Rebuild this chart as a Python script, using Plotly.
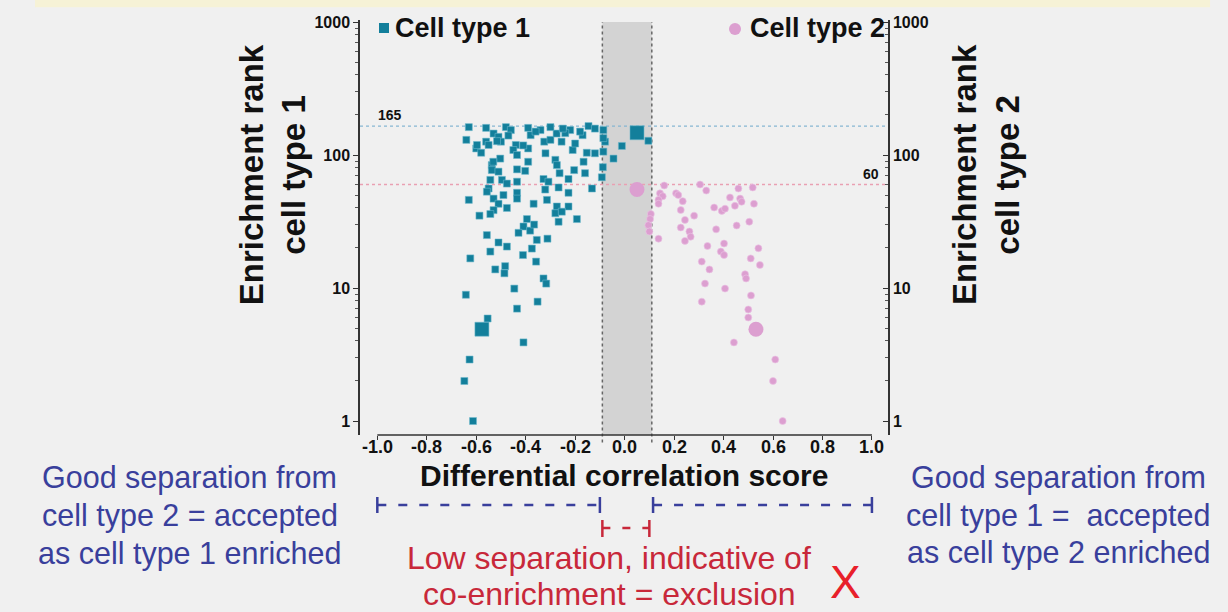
import math
import plotly.graph_objects as go

# ---------------- data ----------------
ct1_x = [-0.63, -0.64, -0.60, -0.58, -0.56, -0.53, -0.51, -0.50, -0.48, -0.46,
         -0.44, -0.45, -0.435, -0.39, -0.38, -0.39, -0.34, -0.325, -0.32, -0.30,
         -0.275, -0.255, -0.22, -0.21, -0.17, -0.146, -0.153, -0.12, -0.086, -0.079,
         -0.086, -0.011, -0.045, 0.096,
         -0.503, -0.537, -0.537, -0.51, -0.435, -0.39, -0.28, -0.274, -0.263, -0.204,
         -0.166, -0.16, -0.088, -0.092,
         -0.543, -0.496, -0.476, -0.435, -0.328, -0.308, -0.321, -0.267, -0.227, -0.55,
         -0.557, -0.227, -0.132,
         -0.49, -0.435, -0.435, -0.53, -0.63, -0.51, -0.314, -0.368, -0.476, -0.53,
         -0.274, -0.227, -0.28, -0.254,
         -0.587, -0.543, -0.193, -0.267, -0.395, -0.409, -0.382, -0.366, -0.429, -0.557,
         -0.312, -0.355, -0.51, -0.476, -0.543, -0.375, -0.411, -0.624, -0.358, -0.483,
         -0.523, -0.486, -0.328, -0.317, -0.446, -0.642, -0.352, -0.435, -0.554, -0.409,
         -0.627, -0.648, -0.613,
         -0.597, -0.55, -0.516, -0.24, -0.086, -0.531, -0.402,
         -0.56, -0.30, -0.25, -0.12, -0.18, -0.36, -0.47, -0.41, -0.20]
ct1_y = [162, 130, 112, 104, 126, 145, 137, 126, 162, 154,
         119, 109, 100, 160, 141, 112, 154, 126, 103, 130,
         145, 126, 154, 109, 141, 165, 104, 103, 154, 126,
         106, 117, 94, 128,
         94, 84, 77, 75, 78, 89, 92, 84, 73, 77,
         89, 73, 81, 68,
         65, 65, 61, 63, 66, 63, 55, 57, 66, 56,
         53, 52, 56,
         50, 52, 47, 47, 46, 43, 46, 43, 40, 38.5,
         41, 41, 36.5, 37.5,
         35, 36, 33, 31.5, 33, 29, 27, 30, 26, 25,
         23.5, 23, 22, 20.5, 18.8, 19.8, 17.7, 16.7, 15.8, 14.6,
         13.8, 12.9, 11.8, 10.8, 9.9, 8.9, 7.9, 7.0, 5.9, 3.9,
         2.9, 2.0, 1.0,
         119, 119, 127, 146, 134, 89, 76,
         160, 162, 158, 158, 150, 150, 140, 118, 122]
ct1_big_x = [-0.577, 0.05]
ct1_big_y = [4.9, 147]

ct2_x = [0.16, 0.143, 0.154, 0.137, 0.137, 0.208, 0.217, 0.235, 0.305, 0.33,
         0.227, 0.281, 0.244, 0.106, 0.103, 0.096, 0.1, 0.227, 0.262, 0.267,
         0.244, 0.137, 0.362, 0.393, 0.406, 0.426, 0.46, 0.518, 0.467, 0.473,
         0.446, 0.523, 0.37, 0.453, 0.504, 0.335, 0.402, 0.389, 0.402, 0.541,
         0.51, 0.312, 0.343, 0.547, 0.487, 0.491, 0.325, 0.406, 0.511, 0.312,
         0.5, 0.5, 0.442, 0.609, 0.6, 0.639]
ct2_y = [59, 51.5, 49, 46, 43, 51.5, 50, 45, 60, 54,
         38.6, 35, 32.5, 36, 33, 29.7, 26.6, 28.5, 26.6, 24.3,
         22.6, 23.5, 40.3, 38, 39.5, 48, 56, 57, 47, 44.5,
         41.5, 43, 27.6, 29.5, 31.5, 20.7, 21.6, 18.8, 17.7, 19.9,
         16.7, 15.8, 13.8, 14.9, 12.7, 11.8, 10.8, 9.9, 8.8, 7.9,
         6.9, 6.0, 3.9, 2.9, 2.0, 1.0]
ct2_big_x = [0.05, 0.531]
ct2_big_y = [55, 4.9]

x_ticks = [-1.0, -0.8, -0.6, -0.4, -0.2, 0.0, 0.2, 0.4, 0.6, 0.8, 1.0]
x_tick_text = ["-1.0", "-0.8", "-0.6", "-0.4", "-0.2", "0.0", "0.2", "0.4", "0.6", "0.8", "1.0"]
y_ticks = [1, 10, 100, 1000]
y_tick_text = ["1", "10", "100", "1000"]
y_minor = [2, 3, 4, 5, 6, 7, 8, 9, 20, 30, 40, 50, 60, 70, 80, 90,
           200, 300, 400, 500, 600, 700, 800, 900]

band = [-0.09, 0.11]          # low-separation zone
thr_ct1 = 165
thr_ct2 = 60
sep_left = [-1.0, -0.10]
sep_right = [0.115, 1.0]
sep_low = [-0.09, 0.10]

# ---------------- style ----------------
TEAL = "#137f9b"
PINK = "#dc9fd0"
BLUE = "#393f9c"
RED = "#c8283a"
FONT = "Liberation Sans, Arial, sans-serif"
XR = [-1.07, 1.065]
YR = [-0.105, 3.015]

fig = go.Figure()

fig.add_trace(go.Scatter(x=XR, y=[thr_ct1, thr_ct1], mode="lines",
                         line=dict(color="#86b6d2", width=1.3, dash="dot"),
                         hoverinfo="skip"))
fig.add_trace(go.Scatter(x=XR, y=[thr_ct2, thr_ct2], mode="lines",
                         line=dict(color="#e9a0b2", width=1.3, dash="dot"),
                         hoverinfo="skip"))

fig.add_trace(go.Scatter(x=ct1_x, y=ct1_y, mode="markers", name="Cell type 1",
                         marker=dict(symbol="square", size=7, color=TEAL,
                                     line=dict(color="rgba(110,185,205,0.7)", width=0.8))))
fig.add_trace(go.Scatter(x=ct1_big_x, y=ct1_big_y, mode="markers",
                         marker=dict(symbol="square", size=14, color=TEAL,
                                     line=dict(color="rgba(110,185,205,0.7)", width=0.8))))
fig.add_trace(go.Scatter(x=ct2_x, y=ct2_y, mode="markers", name="Cell type 2", yaxis="y2",
                         marker=dict(symbol="circle", size=7, color=PINK,
                                     line=dict(color="rgba(235,195,228,0.8)", width=0.8))))
fig.add_trace(go.Scatter(x=ct2_big_x, y=ct2_big_y, mode="markers", yaxis="y2",
                         marker=dict(symbol="circle", size=15, color=PINK)))

shapes = []
# top pale band of the page
shapes.append(dict(type="rect", xref="paper", yref="paper", x0=-0.6155, x1=1.61,
                   y0=1.031, y1=1.06, fillcolor="#f6f2d6", line=dict(width=0), layer="below"))
# grey low-separation band
shapes.append(dict(type="rect", xref="x", yref="paper", x0=band[0], x1=band[1], y0=0, y1=0.995,
                   fillcolor="#d3d3d3", line=dict(width=0), layer="below"))
for bx in band:
    shapes.append(dict(type="line", xref="x", yref="paper", x0=bx, x1=bx, y0=-0.018, y1=0.995,
                       line=dict(color="#666666", width=1.5, dash="dot"), layer="below"))
# x axis line from -1 to 1
shapes.append(dict(type="line", xref="x", yref="paper", x0=x_ticks[0], x1=x_ticks[-1], y0=0, y1=0,
                   line=dict(color="#333333", width=1.5)))
# separation interval bars
def interval(x0, x1, yc, yt, yb, color, dash):
    shapes.append(dict(type="line", xref="x", yref="paper", x0=x0, x1=x1, y0=yc, y1=yc,
                       line=dict(color=color, width=2.5, dash=dash)))
    for xx in (x0, x1):
        shapes.append(dict(type="line", xref="x", yref="paper", x0=xx, x1=xx, y0=yt, y1=yb,
                           line=dict(color=color, width=2.5)))

interval(sep_left[0], sep_left[1], -0.1687, -0.1494, -0.188, BLUE, "9px,12px")
interval(sep_right[0], sep_right[1], -0.1687, -0.1494, -0.188, BLUE, "9px,12px")
interval(sep_low[0], sep_low[1], -0.224, -0.2048, -0.2458, RED, "8px,12px")

# legend symbols
shapes.append(dict(type="rect", xref="paper", yref="paper", x0=0.0360, x1=0.0549,
                   y0=0.9687, y1=0.9928, fillcolor=TEAL, line=dict(width=0)))
shapes.append(dict(type="circle", xref="paper", yref="paper", x0=0.6989, x1=0.7216,
                   y0=0.9639, y1=0.9928, fillcolor=PINK, line=dict(width=0)))

ann = []
def txt(text, x, y, size, color="#111111", bold=False, xanchor="center", yanchor="middle",
        angle=0, xref="paper", yref="paper", yshift=0):
    ann.append(dict(text=text, x=x, y=y, xref=xref, yref=yref, showarrow=False,
                    xanchor=xanchor, yanchor=yanchor, textangle=angle, yshift=yshift,
                    font=dict(family=FONT, size=size, color=color,
                              weight="bold" if bold else "normal")))

# x tick labels (placed just under the axis line)
for v, s in zip(x_ticks, x_tick_text):
    txt(s, v, -0.0289, 18, bold=True, xref="x")

txt("Cell type 1", 0.0625, 0.9807, 27, bold=True, xanchor="left")
txt("Cell type 2", 0.9980, 0.9807, 27, bold=True, xanchor="right")
txt("Enrichment rank<br>cell type 1", -0.165, 0.628, 33, bold=True, angle=-90)
txt("Enrichment rank<br>cell type 2", 1.187, 0.628, 33, bold=True, angle=-90)
txt("Differential correlation score", 0.5, -0.0964, 30, bold=True)
txt(str(thr_ct1), 0.030, math.log10(thr_ct1), 14, bold=True, xanchor="left",
    yanchor="bottom", yref="y", yshift=1)
txt(str(thr_ct2), 0.986, math.log10(thr_ct2), 14, bold=True, xanchor="right",
    yanchor="bottom", yref="y", yshift=1)

left_lines = ["Good separation from", "cell type 2 = accepted", "as cell type 1 enriched"]
right_lines = ["Good separation from", "cell type 1 =  accepted", "as cell type 2 enriched"]
red_lines = ["Low separation, indicative of", "co-enrichment = exclusion"]
for i, s in enumerate(left_lines):
    txt(s, -0.3220, -0.1036 - i * 0.0904, 30.5, color=BLUE)
for i, s in enumerate(right_lines):
    txt(s, 1.3220, -0.1036 - i * 0.0892, 30.5, color=BLUE)
for i, s in enumerate(red_lines):
    txt(s, 0.4716, -0.2964 - i * 0.0867, 32, color=RED)
txt("X", 0.9186, -0.3542, 46, color="#e8202a")

axis_font = dict(family=FONT, size=16, color="#111111", weight="bold")
fig.update_layout(
    width=1228, height=612,
    margin=dict(l=360, r=340, t=20, b=177),
    paper_bgcolor="#f0f0f0", plot_bgcolor="#f0f0f0",
    showlegend=False,
    font=dict(family=FONT),
    shapes=shapes, annotations=ann,
    xaxis=dict(range=XR, tickvals=x_ticks, showticklabels=False, ticks="outside",
               ticklen=4, tickwidth=1.3, tickcolor="#333333", showgrid=False, zeroline=False,
               showline=False),
    yaxis=dict(type="log", range=YR, tickvals=y_ticks, ticktext=y_tick_text, ticks="outside",
               ticklen=5, tickwidth=1.3, tickcolor="#333333", showgrid=False, zeroline=False,
               showline=True, linecolor="#333333", linewidth=1.5, tickfont=axis_font,
               minor=dict(tickvals=y_minor, ticks="outside", ticklen=3, tickcolor="#555555")),
    yaxis2=dict(type="log", range=YR, tickvals=y_ticks, ticktext=y_tick_text, ticks="inside",
                ticklen=5, tickwidth=1.3, tickcolor="#333333", showgrid=False, zeroline=False,
                showline=True, linecolor="#333333", linewidth=1.5, tickfont=axis_font,
                overlaying="y", side="right", anchor="x",
                minor=dict(tickvals=y_minor, ticks="inside", ticklen=3, tickcolor="#555555")),
)

fig.write_html("out.html", config={"displayModeBar": False},
               post_script="document.body.style.margin='0px';")
